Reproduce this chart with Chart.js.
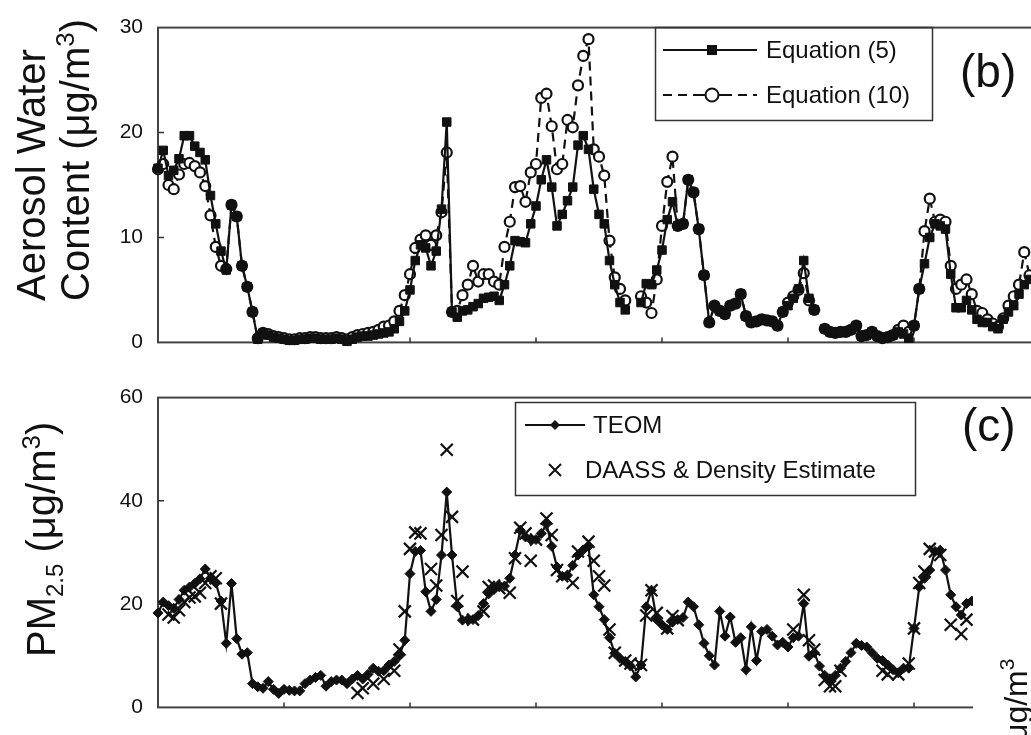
<!DOCTYPE html>
<html><head><meta charset="utf-8">
<script src="https://cdn.jsdelivr.net/npm/chart.js@4.4.1/dist/chart.umd.min.js"></script>
<style>
html,body{margin:0;padding:0;background:#fff;overflow:hidden;width:1031px;height:735px;}
canvas{position:absolute;left:0;}
#top{top:0;}
#bot{top:370px;}
</style></head><body>
<canvas id="top" width="1060" height="370"></canvas>
<canvas id="bot" width="1060" height="365"></canvas>
<script>
// ---- data (hourly samples, index = hour since start) ----
const tickHours = [0, 24, 48, 72, 96, 120, 144, 168];
const awcTicks = [0, 10, 20, 30];
const pmTicks = [0, 20, 40, 60];

const awcEq5 = [
16.6,18.3,15.9,16.4,17.5,19.7,19.7,18.7,18.1,17.4,
14.0,11.3,8.7,6.9,13.1,12.0,7.3,5.3,2.9,0.3,
0.9,0.7,0.5,0.4,0.3,0.2,0.2,0.3,0.3,0.4,
0.4,0.3,0.3,0.3,0.4,0.3,0.1,0.3,0.5,0.6,
0.6,0.7,0.8,0.9,1.0,1.3,2.0,3.0,5.0,7.8,
9.3,9.0,7.3,8.7,12.7,21.0,2.9,2.4,3.0,3.1,
3.4,3.7,4.2,4.3,4.4,4.0,5.5,7.3,9.7,9.6,
9.5,11.3,13.0,15.5,17.4,14.8,11.1,12.2,13.5,14.8,
18.8,19.7,18.4,14.6,12.2,11.3,7.8,5.5,3.8,3.1,
null,null,3.8,5.6,5.5,6.9,8.8,11.7,13.4,11.1,
11.3,15.5,14.3,10.8,6.4,1.9,3.5,3.0,2.7,3.5,
3.7,4.6,2.5,1.9,2.0,2.2,2.1,2.0,1.6,2.9,
3.5,4.2,5.1,7.8,4.2,3.1,null,1.3,1.0,0.9,
1.0,1.0,1.2,1.6,0.6,0.7,1.0,0.6,0.4,0.5,
0.7,1.0,0.8,0.4,1.6,5.1,7.5,10.0,11.3,11.1,
10.8,6.5,3.3,3.3,4.0,3.1,2.2,1.9,1.9,1.5,
1.3,2.2,2.9,3.5,4.6,5.5,6.0
];
const awcEq10 = [
16.5,17.0,15.0,14.6,16.0,17.0,17.1,16.8,16.2,14.9,
12.1,9.1,7.3,7.0,13.1,12.0,7.3,5.3,2.9,0.4,
0.9,0.8,0.6,0.5,0.4,0.3,0.3,0.4,0.4,0.5,
0.5,0.4,0.4,0.4,0.5,0.4,0.3,0.5,0.7,0.8,
0.9,1.0,1.2,1.5,1.6,2.0,3.0,4.5,6.5,9.0,
9.8,10.2,9.3,10.2,12.4,18.1,2.9,3.0,4.5,5.5,
7.3,5.8,6.5,6.5,5.8,5.5,9.1,11.5,14.8,14.9,
13.4,16.2,17.0,23.3,23.7,20.6,16.5,17.0,21.2,20.5,
24.5,27.3,28.9,18.4,17.7,15.9,9.7,6.2,5.1,4.0,
null,null,4.4,3.8,2.8,6.0,11.1,15.3,17.7,11.1,
11.3,15.5,14.3,10.8,6.4,1.9,3.5,3.0,2.7,3.5,
3.7,4.6,2.5,1.9,2.0,2.2,2.1,2.0,1.6,2.9,
3.8,4.4,5.0,6.6,4.0,3.1,null,1.3,1.0,0.9,
1.0,1.0,1.2,1.6,0.6,0.7,1.0,0.6,0.4,0.5,
0.7,1.2,1.6,1.0,1.6,5.1,10.6,13.7,11.5,11.7,
11.5,7.3,5.1,5.5,6.0,4.6,3.0,2.8,2.2,1.8,
1.5,2.3,3.5,4.4,5.5,8.6,6.4
];
const pmTeom = [
18.3,20.4,19.7,19.2,20.9,22.7,23.3,24.0,24.9,26.8,
25.0,24.1,20.6,12.4,24.0,13.3,10.3,10.6,4.6,4.0,
3.7,5.0,3.5,2.7,3.5,3.3,3.2,3.2,4.6,5.3,
5.8,6.2,4.1,5.0,5.3,5.3,4.6,5.5,6.2,5.5,
6.4,7.6,7.0,7.1,8.2,8.9,10.0,13.0,25.9,30.2,
30.4,22.4,18.6,20.9,29.5,41.7,29.5,19.5,16.9,17.0,
17.0,17.8,20.1,22.0,23.3,23.6,23.5,25.0,29.5,34.3,
33.0,32.5,32.5,33.7,35.5,31.2,27.2,25.4,25.6,27.5,
29.5,30.5,31.2,21.8,19.5,17.0,13.5,10.5,9.5,8.9,
8.0,5.9,8.2,19.5,22.7,17.0,16.0,15.1,16.5,17.0,
17.4,20.4,19.5,16.0,12.4,10.0,8.2,18.6,13.8,17.5,
12.6,13.5,7.3,15.6,9.1,14.7,15.1,13.8,12.1,12.6,
11.7,13.5,13.8,20.1,9.9,10.6,8.0,6.2,5.3,6.2,
7.6,8.9,10.6,12.4,12.0,11.7,10.6,9.5,9.1,8.2,
7.3,6.7,7.6,7.6,15.3,23.3,25.0,26.6,30.2,30.4,
26.6,21.8,19.5,17.9,20.1,20.6
];
const daassHour = [
2,3,4,5,6,7,8,9,10,11,12,
38,39,41,43,45,46,47,48,49,50,52,53,54,55,56,57,58,60,62,63,64,65,67,68,69,70,71,72,74,75,76,77,79,80,82,83,84,85,86,87,89,90,92,93,94,95,97,98,99,
121,123,124,125,127,128,129,130,138,139,141,143,144,145,146,147,148,149,151,153,154
];
const daassValue = [
18.0,17.4,18.8,20.4,21.3,21.5,22.2,24.1,25.4,25.0,20.1,
2.8,3.7,4.6,5.5,7.1,11.2,18.6,30.7,33.9,33.7,26.8,23.6,33.4,49.9,36.9,20.6,26.3,17.0,18.6,23.3,23.6,23.1,22.2,28.9,34.8,33.7,28.4,32.5,36.6,33.4,26.6,25.4,24.1,30.2,32.1,28.4,25.4,23.6,15.1,10.6,9.1,8.5,8.2,17.8,22.7,18.3,15.3,17.7,16.9,
15.1,21.8,13.0,11.2,5.3,4.1,4.1,7.1,7.1,6.4,6.4,8.5,15.3,24.1,26.3,30.7,30.2,29.5,16.0,14.2,17.0
];

// ---- helpers ----
const FONT = '"Liberation Sans", Arial, Helvetica, sans-serif';
const INK = '#111';
const toXY = arr => arr.map((v, i) => ({x: i, y: v}));

function framePlugin(extraDraw) {
  return {
    id: 'frame',
    beforeDatasetsDraw(chart) {
      const {ctx, chartArea: a, scales: {x, y}} = chart;
      ctx.save();
      ctx.strokeStyle = '#444';
      ctx.lineWidth = 2;
      ctx.strokeRect(a.left, a.top, a.right - a.left, a.bottom - a.top);
      ctx.strokeStyle = '#333';
      ctx.lineWidth = 1.5;
      ctx.beginPath();
      y.ticks.forEach(t => {
        if (t.value > y.min && t.value < y.max) {
          const py = y.getPixelForValue(t.value);
          ctx.moveTo(a.left, py); ctx.lineTo(a.left + 6, py);
        }
      });
      tickHours.forEach(h => {
        const px = x.getPixelForValue(h);
        if (px > a.left + 1 && px < a.right - 1) {
          ctx.moveTo(px, a.bottom); ctx.lineTo(px, a.bottom - 5);
        }
      });
      ctx.stroke();
      ctx.restore();
    },
    afterDraw(chart) { extraDraw(chart.ctx, chart); }
  };
}

// draw rotated (bottom-to-top) text made of pieces [{t, size, dy}]
function rotatedPieces(ctx, baseX, startY, pieces) {
  ctx.save();
  ctx.translate(baseX, startY);
  ctx.rotate(-Math.PI / 2);
  ctx.fillStyle = INK;
  ctx.textAlign = 'left';
  ctx.textBaseline = 'alphabetic';
  let cx = 0;
  pieces.forEach(p => {
    ctx.font = p.size + 'px ' + FONT;
    ctx.fillText(p.t, cx, p.dy || 0);
    cx += ctx.measureText(p.t).width;
  });
  ctx.restore();
}

function baseOptions(yMax, yStep, padTop, padBottom) {
  return {
    responsive: false,
    animation: false,
    events: [],
    layout: {padding: {left: 0, right: 14.75, top: padTop, bottom: padBottom}},
    plugins: {legend: {display: false}, tooltip: {enabled: false}},
    scales: {
      x: {type: 'linear', min: 0, max: 169, display: false},
      y: {
        min: 0, max: yMax,
        afterFit: s => { s.width = 158; },
        grid: {display: false, drawTicks: false},
        border: {display: false},
        ticks: {stepSize: yStep, padding: 15, color: INK, font: {family: FONT, size: 21}}
      }
    }
  };
}

// ---- top panel: aerosol water content ----
const topOpts = baseOptions(30, 10, 16, 15);
new Chart(document.getElementById('top'), {
  type: 'line',
  data: {
    datasets: [
      {
        label: 'Equation (5)', data: toXY(awcEq5), clip: false,
        borderColor: INK, borderWidth: 2.2, tension: 0, spanGaps: false,
        pointStyle: 'rect', pointRadius: 6, pointBackgroundColor: INK,
        pointBorderColor: INK, pointBorderWidth: 1
      },
      {
        label: 'Equation (10)', data: toXY(awcEq10), clip: false,
        borderColor: INK, borderWidth: 2.2, borderDash: [9, 6], tension: 0, spanGaps: false,
        pointStyle: 'circle', pointRadius: 5, pointBackgroundColor: '#fff',
        pointBorderColor: INK, pointBorderWidth: 2.2
      }
    ]
  },
  options: topOpts,
  plugins: [framePlugin((ctx) => {
    ctx.save();
    // legend
    ctx.strokeStyle = '#333'; ctx.lineWidth = 1.5;
    ctx.strokeRect(655.5, 27.5, 277, 93);
    ctx.strokeStyle = INK; ctx.lineWidth = 2;
    ctx.beginPath(); ctx.moveTo(663, 50); ctx.lineTo(757, 50); ctx.stroke();
    ctx.fillStyle = INK; ctx.fillRect(707, 45, 10, 10);
    ctx.setLineDash([9, 6]);
    ctx.beginPath(); ctx.moveTo(663, 95); ctx.lineTo(757, 95); ctx.stroke();
    ctx.setLineDash([]);
    ctx.beginPath(); ctx.moveTo(700, 95); ctx.lineTo(724, 95); ctx.stroke();
    ctx.fillStyle = '#fff'; ctx.beginPath(); ctx.arc(712, 95, 6.5, 0, Math.PI * 2); ctx.fill(); ctx.stroke();
    ctx.fillStyle = INK;
    ctx.font = '24px ' + FONT; ctx.textBaseline = 'middle'; ctx.textAlign = 'left';
    ctx.fillText('Equation (5)', 766, 51);
    ctx.fillText('Equation (10)', 766, 96);
    // panel label
    ctx.font = '46px ' + FONT;
    ctx.fillText('(b)', 960, 74);
    ctx.restore();
    // axis title
    rotatedPieces(ctx, 45, 301, [{t: 'Aerosol Water', size: 40}]);
    rotatedPieces(ctx, 89, 301, [
      {t: 'Content (\u03bcg/m', size: 40},
      {t: '3', size: 26, dy: -15},
      {t: ')', size: 40}
    ]);
  })]
});

// ---- bottom panel: PM2.5 ----
const botOpts = baseOptions(60, 20, 15, 12);
new Chart(document.getElementById('bot'), {
  type: 'line',
  data: {
    datasets: [
      {
        label: 'DAASS & Density Estimate', clip: false,
        data: daassHour.map((h, i) => ({x: h, y: daassValue[i]})),
        showLine: false, borderColor: INK,
        pointStyle: 'crossRot', pointRadius: 8.5, pointBorderColor: INK, pointBorderWidth: 2.2
      },
      {
        label: 'TEOM', data: toXY(pmTeom), clip: false,
        borderColor: INK, borderWidth: 2.2, tension: 0,
        pointStyle: 'rectRot', pointRadius: 5, pointBackgroundColor: INK,
        pointBorderColor: INK, pointBorderWidth: 1
      }
    ]
  },
  options: botOpts,
  plugins: [framePlugin((ctx) => {
    ctx.save();
    // legend (local y = screen y - 370)
    ctx.strokeStyle = '#333'; ctx.lineWidth = 1.5;
    ctx.strokeRect(515.5, 32.5, 400, 93);
    ctx.strokeStyle = INK; ctx.lineWidth = 2;
    ctx.beginPath(); ctx.moveTo(525, 55); ctx.lineTo(585, 55); ctx.stroke();
    ctx.fillStyle = INK;
    ctx.beginPath(); ctx.moveTo(555, 50); ctx.lineTo(560, 55); ctx.lineTo(555, 60); ctx.lineTo(550, 55); ctx.closePath(); ctx.fill();
    ctx.beginPath();
    ctx.moveTo(549, 94); ctx.lineTo(561, 106); ctx.moveTo(561, 94); ctx.lineTo(549, 106);
    ctx.stroke();
    ctx.font = '24px ' + FONT; ctx.textBaseline = 'middle'; ctx.textAlign = 'left';
    ctx.fillText('TEOM', 593, 56);
    ctx.fillText('DAASS & Density Estimate', 585, 101);
    ctx.font = '46px ' + FONT;
    ctx.fillText('(c)', 962, 58);
    // cut-off corner of the neighbouring panel
    ctx.fillStyle = '#fff';
    ctx.fillRect(973, 205, 90, 165);
    ctx.restore();
    rotatedPieces(ctx, 1027, 372, [
      {t: '\u03bcg/m', size: 32},
      {t: '3', size: 21, dy: -13}
    ]);
    rotatedPieces(ctx, 55, 287, [
      {t: 'PM', size: 40},
      {t: '2.5', size: 24, dy: 8},
      {t: ' (\u03bcg/m', size: 40},
      {t: '3', size: 26, dy: -15},
      {t: ')', size: 40}
    ]);
  })]
});
</script>
</body></html>
